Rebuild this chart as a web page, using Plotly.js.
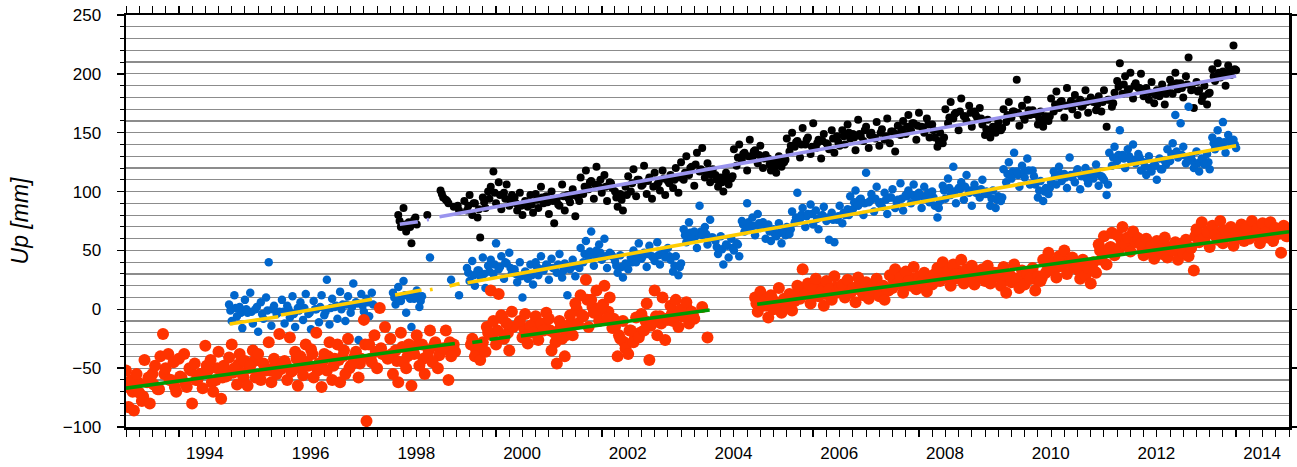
<!DOCTYPE html>
<html><head><meta charset="utf-8">
<script src="https://cdn.plot.ly/plotly-3.0.1.min.js"></script>
<style>html,body{margin:0;padding:0;background:#fff}#chart{width:1297px;height:467px}</style>
</head><body><div id="chart"></div>
<script>
// sampling: scatter values at a 0.05-year step,
// band-centre values read at a 0.1-year step (interleaved)
const sampleStep = 0.05, midStep = 0.1;
const redStart = 1993.00, blueStart = 1994.95, blackStart = 1998.15;
const redMidStart = 1993.025, blueMidStart = 1994.975, blackMidStart = 1998.175;

// Up [mm], black station (1998.15 .. 2014.00)
const blackUp = [
 80,70,86,66,74,56,76,72, null,null,null, 80, null,null,null,null,
 101,95,93,90,null,87,null,84,null,
 92,84,97,80,90,78,61,95,86,100,
 104,117,90,108,85,99,106,88,97,
 95,84,99,80,92,87,97,82,
 98,86,104,90,96,81,100,73,94,88,106,84,97,91,102,79,95,
 112,98,118,102,109,94,121,104,99,114,92,108,103,
 100,87,98,84,104,
 113,100,119,96,110,105,122,98,112,94,116,106,101,118,97,109,114,103,120,99,
 125,110,130,114,121,105,133,117,137,112,124,108,119,
 114,104,112,100,116,106,111,
 136,122,140,127,133,118,144,129,135,124,139,120,131,
 128,118,126,116,130,121,125,
 145,134,150,138,143,129,154,140,146,132,158,137,144,128,149,141,136,152,133,147,139,
 152,140,157,145,149,135,161,147,143,155,137,150,146,159,139,153,144,162,141,151,134,156,148,
 160,149,165,152,158,144,167,155,150,162,146,157,
 146,138,150,141,
 170,158,176,162,167,152,179,164,160,173,155,168,163,171,
 157,148,161,146,155,150,159,152,
 170,159,176,163,168,195,156,173,161,178,165,169,
 166,157,168,155,164,160,
 179,168,185,171,177,163,188,174,170,182,165,178,173,186,167,180,176,169,
 181,168,186,155,178,172,184,
 194,209,183,198,186,201,179,192,188,200,181,
 188,178,193,175,186,181,191,174,185,
 195,183,201,187,192,180,198,214,186,171,193,
 186,177,190,174,184,
 204,194,209,197,202,190,207,199,224,203
];
// black band centre (1998.175 .. 2013.975)
const blackMid = [
 75,72,70,78, null,null,null,null, 98,92,null,88,null,
 88,90,85,91,94,
 99,97,94,93,
 90,88,91,89,
 93,95,91,92,89,96,94,97,92,
 104,108,106,110,104,107,
 95,93,97,
 107,110,106,109,104,108,111,107,110,112,
 116,120,123,119,117,114,
 110,108,111,113,
 129,132,130,134,131,128,
 123,121,125,127,
 139,142,140,144,138,141,143,140,145,142,
 147,150,146,149,152,148,145,150,147,151,149,153,
 155,158,156,154,157,152,
 143,146,
 163,166,168,164,167,165,162,
 153,151,155,154,
 165,168,167,164,169,166,
 162,160,164,
 174,176,173,177,175,172,176,178,174,
 176,178,175,
 189,191,187,190,188,186,
 184,182,186,183,
 190,192,188,191,187,185,
 181,183,
 198,201,199,202,204
];

// Up [mm], blue station (1994.95 .. 2014.00)
const blueUp = [
 4,-10,12,-6,2,-16,8,-3,14,-12,0,-19,6,-8,10,40,-14,3,-4,
 -2,8,-12,3,-7,11,-15,1,6,-9,13,-4,-17,7,0,-11,12,-5,25,-13,9,2,-8,15,4,-10,11,-3,22,6,-26,13,-2,9,-6,14,
 null,null,null,null,null,null,null,
 14,4,19,7,24,-3,12,-15,9,16,2,11,
 null,null,44,null,null,null,null,null,null,null,25,null,null,12,null,null,
 35,24,41,20,33,28,44,18,37,
 42,30,56,34,45,26,39,48,31,
 34,23,40,10,32,26,38,21,
 40,29,45,33,38,25,43,35,31,47,27,39,12,34,42,28,37,
 52,40,58,44,66,37,50,55,42,60,35,48,45,
 41,31,46,27,39,34,44,
 50,40,56,43,48,36,54,45,41,57,38,49,44,52,
 42,32,45,29,39,
 68,57,74,60,66,52,88,63,70,55,76,61,
 58,47,62,38,55,44,60,50,56,45,
 75,66,90,70,78,63,81,69,74,60,72,58,68,62,73,56,66,70,64,
 83,74,99,77,86,70,81,89,72,84,68,79,87,75,59,82,57,76,88,73,80,85,
 96,85,101,88,94,80,116,91,98,83,104,90,87,99,81,95,102,86,93,107,84,97,
 101,90,106,93,99,86,104,95,91,100,
 88,78,92,
 105,94,111,97,121,90,103,108,93,114,99,88,106,101,95,110,98,
 98,88,101,86,96,92,
 119,108,125,111,133,117,104,122,112,128,106,118,
 106,95,109,92,103,98,108,
 117,106,121,109,115,103,129,112,108,119,102,114,120,107,116,111,123,105,113,
 110,97,
 133,122,138,126,152,131,120,136,127,140,124,132,118,
 125,114,130,117,123,110,128,119,126,
 136,126,141,165,129,158,138,124,
 172,130,120,134,117,128,123,132,119,
 146,136,152,139,159,133,148,141,144,137
];
// blue band centre (1994.975 .. 2013.975)
const blueMid = [
 -1,1,-3,0,-2,2,-4,-1,0,-3,
 -2,0,-4,-1,1,-3,0,2,-2,1,3,0,4,2,5,3,6,4,
 null,null,null,
 10,8,12,9,11,7,
 null,null,null,null,null,null,null,null,
 31,29,33,30,32,
 38,36,40,35,
 30,28,31,29,
 36,34,37,35,38,33,36,37,35,
 47,49,46,48,45,47,
 37,36,38,40,
 46,45,47,44,46,48,45,
 37,36,
 63,65,62,66,64,61,
 53,51,54,52,55,
 72,74,71,73,70,66,64,65,63,68,
 78,80,79,81,77,80,78,76,79,82,80,
 91,93,90,92,94,91,93,95,92,94,96,
 97,98,96,99,95,
 86,
 101,103,100,102,104,101,99,102,100,
 94,93,95,
 115,117,114,116,118,113,
 101,100,103,
 113,115,112,114,116,113,111,114,115,112,
 106,
 129,131,128,130,127,129,
 121,120,122,119,123,
 132,134,131,129,
 126,124,127,125,
 141,143,142,144,140
];

// Up [mm], red station (1993.00 .. 2015.00)
const redUp = [
 -52,-83,-60,-86,-55,-71,-78,
 -43,-62,-80,-55,-48,-68,-40,
 -21,-50,-38,-60,-45,-70,
 -42,-58,-38,-66,-50,-80,-46,-60,-55,-67,
 -31,-52,-43,-70,-60,-36,-76,-48,-57,-41,
 -30,-50,-64,-38,-55,-44,-65,-48,-35,-58,
 -38,-60,-46,-52,-28,-62,-42,-55,-21,-48,
 -44,-60,-24,-52,-36,-65,-40,-56,-30,-48,
 -34,-58,-20,-46,-66,-38,-52,-28,-60,-42,
 -30,-62,-40,-55,-25,-48,-45,-36,-58,-42,
 -9,-95,-30,-45,-22,-50,1,-38,-15,-42,
 -25,-55,-35,-62,-20,-45,-50,-30,-65,-38,
 -22,-48,-30,-55,-40,-18,-45,-28,-50,-36,
 -33,-18,-60,-40,-30,
 null,null,null,null,null,null,
 -25,-40,-30,-43,-28,-36,
 -20,16,-10,-30,13,-5,-25,-12,-35,-2,
 null,null,
 -10,-24,-4,-29,-14,-20,-6,-26,-12,-18,-3,
 -8,-35,-20,-46,-10,-25,-40,-14,-5,-22,
 5,-12,12,-6,25,-15,8,-3,16,-10,2,20,-8,10,-16,
 -15,-40,-25,-10,-33,-38,-18,-28,-7,-24,
 -4,-18,5,-43,-12,16,-22,-6,10,-26,-9,
 3,-10,8,-15,0,-6,6,-12,-2,
 -8,null,null,2,null,-24,
 null,null,null,null,null,null,null,null,null,null,null,null,null,null,null,null,null,
 10,-2,15,3,8,-7,12,0,5,18,-3,9,2,13,-1,7,
 20,9,34,13,22,5,18,26,11,15,3,24,17,8,28,14,19,
 21,10,25,14,18,6,27,16,12,23,9,19,15,26,11,20,8,17,
 29,18,34,22,27,14,32,24,20,36,17,28,23,31,15,26,21,30,
 35,24,40,27,33,20,38,30,26,42,22,34,29,37,21,32,28,
 34,24,37,22,31,28,
 31,20,36,14,29,23,38,25,18,33,21,30,26,35,16,28,24,
 42,31,48,34,40,27,45,37,50,30,39,44,35,
 37,26,42,29,35,22,40,31,
 55,42,62,38,52,65,46,
 63,52,70,55,61,49,66,57,60,
 56,46,60,49,54,43,58,51,47,61,44,53,50,57,42,55,48,59,45,52,33,
 68,57,74,60,66,53,71,63,59,75,56,67,62,70,54,65,61,72,58,
 70,60,75,63,68,56,73,65,61,74,58,69,64,48,71,62,67
];
// red band centre (1993.025 .. 2014.925)
const redMid = [
 -66,-70,-62,-74,-58,-64,-68,-55,-60,-66,
 -57,-63,-52,-60,-55,-48,-62,-50,-58,-53,
 -54,-47,-58,-50,-44,-56,-49,-52,-45,-51,
 -47,-53,-42,-50,-45,-38,-52,-44,-40,-48,
 -43,-35,-50,-40,-46,-30,-42,-36,-33,-40,
 -38,-44,-32,-40,-36,-30,-42,-35,-31,-39,
 -34,-28,-36, null,null, -30,-35,-32, -15,-22,
 -18,-8,-20,-15, null, -16,-20,-12,-18,-14,
 -18,-28,-15,-22,-12, 0,-5,8,2,-3,
 4,-2,-8, -22,-28,-18,-25,-20,
 -10,-14,-6,-12,-8, -4,-2,-6,0,-5,
 null,null,null,null,null,null,null,null,null,null,null, 5,
 6,3,9,4,7,2,8,
 15,18,14,17,20,13,16,19,15,
 17,15,19,16,18,14,17,20,16,
 24,26,23,27,25,22,26,28,24,
 30,32,29,33,31,28,32,30,
 30,28,31,
 27,25,29,26,24,28,26,25,27,
 38,40,36,39,41,37,
 33,31,35,32,
 50,48,53,51,
 59,60,58,61,
 52,50,53,51,54,52,50,53,51,52,
 62,64,63,65,62,66,64,63,65,64,
 66,65,67,64,68,66,65,67
];

// fitted trend segments, null = break
const greenT  = [1993.0, 1999.22, null, 1999.55, 1999.74, null, 1999.88, 2000.27, null, 2000.47, 2004.04, null, 2004.94, 2015.0];
const greenV  = [-67, -29, null, -28.2, -27.0, null, -25.6, -23.3, null, -22.7, -0.6, null, 4.2, 65.9];
const yellowT = [1994.96, 1995.88, null, 1995.93, 1997.65, null, 1998.09, 1998.59, null, 1998.75, 1998.80, null, 1999.12, 1999.31, null, 1999.46, 2014.0];
const yellowV = [-12.5, -6.3, null, -4.9, 8.5, null, 12.1, 16.4, null, 16.6, 17.0, null, 19.7, 22.0, null, 22.5, 139];
const lavT    = [1998.18, 1998.52, null, 1998.69, 1998.73, null, 1998.93, 2014.0];
const lavV    = [72.2, 74.4, null, 76.0, 76.3, null, 78.6, 198.2];

const yearTicks = [1994, 1996, 1998, 2000, 2002, 2004, 2006, 2008, 2010, 2012, 2014];

function epochs(start, n, step) {
  return Array.from({length: n}, (_, i) => +(start + i * step).toFixed(3));
}

const pts = (t, v, color, size) => ({
  type: 'scatter', mode: 'markers', x: t, y: v, hoverinfo: 'skip',
  marker: {color: color, size: size, line: {width: 0}}
});
const trend = (t, v, color) => ({
  type: 'scatter', mode: 'lines', x: t, y: v, connectgaps: false, hoverinfo: 'skip',
  line: {color: color, width: 3.6}
});

const traces = [
  pts(epochs(blackMidStart, blackMid.length, midStep), blackMid, '#000000', 8),
  pts(epochs(blackStart, blackUp.length, sampleStep), blackUp, '#000000', 8),
  trend(lavT, lavV, '#9a94ee'),
  pts(epochs(blueMidStart, blueMid.length, midStep), blueMid, '#0066cc', 8.5),
  pts(epochs(blueStart, blueUp.length, sampleStep), blueUp, '#0066cc', 8.5),
  trend(yellowT, yellowV, '#ffcc00'),
  pts(epochs(redMidStart, redMid.length, midStep), redMid, '#ff3300', 12),
  pts(epochs(redStart, redUp.length, sampleStep), redUp, '#ff3300', 12),
  trend(greenT, greenV, '#009900'),
  {type: 'scatter', mode: 'markers', x: [], y: [], yaxis: 'y2', hoverinfo: 'skip'}
];

const gridCol = '#8c8c8c';
const layout = {
  width: 1297, height: 467,
  margin: {l: 126, r: 8, t: 15, b: 40},
  paper_bgcolor: '#ffffff', plot_bgcolor: '#ffffff',
  showlegend: false,
  font: {family: 'Liberation Sans, Arial, Helvetica, sans-serif', size: 17, color: '#000'},
  xaxis: {
    range: [1993, 2015], tickmode: 'array', tickvals: yearTicks, ticktext: yearTicks.map(String),
    ticks: 'outside', ticklen: 7, tickwidth: 1.5, tickcolor: '#000',
    ticklabelshift: 26, ticklabelstandoff: 2,
    showline: true, linewidth: 2.5, linecolor: '#000', mirror: 'allticks',
    showgrid: false, zeroline: false,
    minor: {dtick: 0.25, tick0: 1993, ticks: 'outside', ticklen: 4, tickwidth: 1, tickcolor: '#000', showgrid: false}
  },
  yaxis: {
    range: [-100, 250], tick0: 0, dtick: 50,
    ticks: 'outside', ticklen: 7, tickwidth: 1.5, tickcolor: '#000', ticklabelstandoff: 12,
    showline: true, linewidth: 2.5, linecolor: '#000', mirror: true,
    showgrid: true, gridcolor: gridCol, gridwidth: 1.2, zeroline: false,
    minor: {dtick: 10, tick0: 0, ticks: 'outside', ticklen: 4, tickwidth: 1, tickcolor: '#000', showgrid: true, gridcolor: gridCol, gridwidth: 1.2},
    title: {text: '<i>Up [mm]</i>', font: {size: 23}, standoff: 28}
  },
  yaxis2: {
    overlaying: 'y', side: 'right', range: [-100, 250], tick0: 0, dtick: 50,
    ticks: 'outside', ticklen: 7, tickwidth: 1.5, tickcolor: '#000',
    showticklabels: false, showgrid: false, zeroline: false, showline: false
  }
};

Plotly.newPlot('chart', traces, layout, {staticPlot: true, displayModeBar: false});
</script>
</body></html>
